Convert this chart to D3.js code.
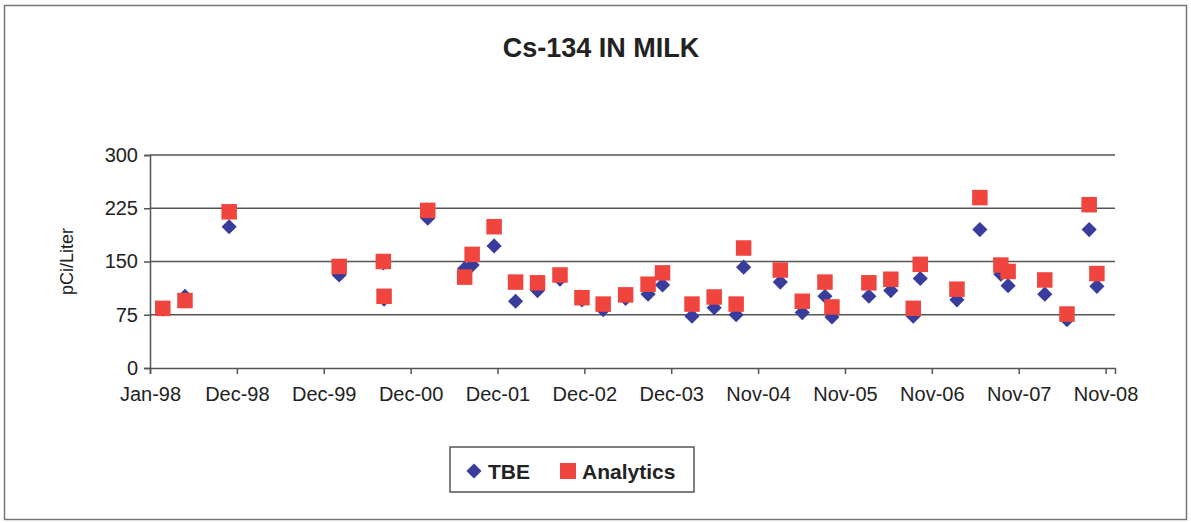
<!DOCTYPE html>
<meta charset="utf-8">
<style>
  body { margin: 0; background: #fff; }
  text { font-family: Arial, "Liberation Sans", sans-serif; fill: #222; }
</style>
<body>
<script src="https://cdn.jsdelivr.net/npm/d3@7"></script>
<script>

// sample dates
const dates = [
  "1998-02-23", "1998-05-26", "1998-11-25", "2000-02-24", "2000-08-25", "2000-08-28",
  "2001-02-25", "2001-07-28", "2001-08-28", "2001-11-27", "2002-02-24", "2002-05-26",
  "2002-08-27", "2002-11-26", "2003-02-22", "2003-05-26", "2003-08-27", "2003-10-26",
  "2004-02-25", "2004-05-27", "2004-08-26", "2004-09-26", "2005-02-25", "2005-05-27",
  "2005-08-29", "2005-09-27", "2006-02-27", "2006-05-29", "2006-08-30", "2006-09-28",
  "2007-02-27", "2007-06-02", "2007-08-28", "2007-09-27", "2008-02-26", "2008-05-28",
  "2008-08-28", "2008-09-29"
];
const tbe = [
  83, 101, 199, 131, 148, 97,
  211, 140, 145, 172, 94, 109,
  125, 96, 82, 98, 104, 117,
  73, 85, 75, 142, 121, 78,
  101, 72, 101, 109, 73, 126,
  96, 195, 132, 116, 104, 68,
  195, 115
];
const analytics = [
  84, 95, 220, 143, 150, 101,
  222, 128, 160, 199, 121, 120,
  131, 99, 90, 103, 118, 134,
  90, 100, 90, 169, 138, 94,
  121, 86, 120, 125, 84, 146,
  111, 240, 145, 136, 124, 76,
  230, 133
];
const yTicks = [0, 75, 150, 225, 300];
const xTickLabels = ["Jan-98", "Dec-98", "Dec-99", "Dec-00", "Dec-01", "Dec-02",
                     "Dec-03", "Nov-04", "Nov-05", "Nov-06", "Nov-07", "Nov-08"];

const W = 1191, H = 523;
const plot = {left: 150, right: 1115, top: 155, bottom: 368};

const parse = d3.timeParse("%Y-%m-%d");
const start = parse("1998-01-01");
const tickDates = xTickLabels.map((d, i) => d3.timeDay.offset(start, i * 360));

const x = d3.scaleTime()
    .domain([start, d3.timeDay.offset(start, 3960 + 39)])
    .range([plot.left, plot.right]);

const y = d3.scaleLinear()
    .domain([0, 300])
    .range([plot.bottom, plot.top]);

const svg = d3.select("body").append("svg")
    .attr("width", W)
    .attr("height", H);

// chart frame
svg.append("rect")
    .attr("x", 4.5).attr("y", 5.5)
    .attr("width", 1182).attr("height", 514)
    .attr("fill", "#fff")
    .attr("stroke", "#777")
    .attr("stroke-width", 1.5);

// title
svg.append("text")
    .attr("x", 601)
    .attr("y", 57)
    .attr("text-anchor", "middle")
    .style("font-size", "27px")
    .style("font-weight", "bold")
    .text("Cs-134 IN MILK");

// gridlines
svg.append("g")
  .selectAll("line")
  .data(yTicks.filter(d => d > 0))
  .join("line")
    .attr("x1", plot.left).attr("x2", plot.right)
    .attr("y1", d => y(d)).attr("y2", d => y(d))
    .attr("stroke", "#555")
    .attr("stroke-width", 1.5);

// y axis
const yAxis = svg.append("g")
    .attr("transform", `translate(${plot.left},0)`)
    .call(d3.axisLeft(y).tickValues(yTicks).tickSize(6).tickPadding(6));

// x axis
const xAxis = svg.append("g")
    .attr("transform", `translate(0,${plot.bottom})`)
    .call(d3.axisBottom(x).tickValues(tickDates).tickSize(6).tickPadding(10)
      .tickFormat((d, i) => xTickLabels[i]));

[xAxis, yAxis].forEach(g => {
  g.select(".domain").attr("stroke", "#555").attr("stroke-width", 1.5);
  g.selectAll(".tick line").attr("stroke", "#555").attr("stroke-width", 1.5);
  g.selectAll("text").attr("fill", "#222").style("font-size", "20px")
    .style("font-family", "Arial, 'Liberation Sans', sans-serif");
});
xAxis.selectAll("text").attr("dy", "0.85em");

// y label
svg.append("text")
    .attr("transform", `translate(73,${(plot.top + plot.bottom) / 2}) rotate(-90)`)
    .attr("text-anchor", "middle")
    .style("font-size", "18px")
    .text("pCi/Liter");

// marks
const diamond = d3.symbol().type(d3.symbolSquare).size(115);
const square = d3.symbol().type(d3.symbolSquare).size(240);
const blue = "#383c9c", red = "#f0443f";

svg.append("g")
  .selectAll("path")
  .data(dates)
  .join("path")
    .attr("d", diamond)
    .attr("transform", (d, i) => `translate(${x(parse(d))},${y(tbe[i])}) rotate(45)`)
    .attr("fill", blue);

svg.append("g")
  .selectAll("path")
  .data(dates)
  .join("path")
    .attr("d", square)
    .attr("transform", (d, i) => `translate(${x(parse(d))},${y(analytics[i])})`)
    .attr("fill", red);

// legend
const legend = svg.append("g");
legend.append("rect")
    .attr("x", 450).attr("y", 447)
    .attr("width", 244).attr("height", 45)
    .attr("fill", "#fff")
    .attr("stroke", "#555")
    .attr("stroke-width", 1.5);

legend.append("path")
    .attr("d", diamond)
    .attr("transform", "translate(474,471) rotate(45)")
    .attr("fill", blue);
legend.append("text")
    .attr("x", 488).attr("y", 479)
    .style("font-size", "21px").style("font-weight", "bold")
    .text("TBE");

legend.append("path")
    .attr("d", d3.symbol().type(d3.symbolSquare).size(256))
    .attr("transform", "translate(568,471)")
    .attr("fill", red);
legend.append("text")
    .attr("x", 582).attr("y", 479)
    .style("font-size", "21px").style("font-weight", "bold")
    .text("Analytics");

</script>
</body>
